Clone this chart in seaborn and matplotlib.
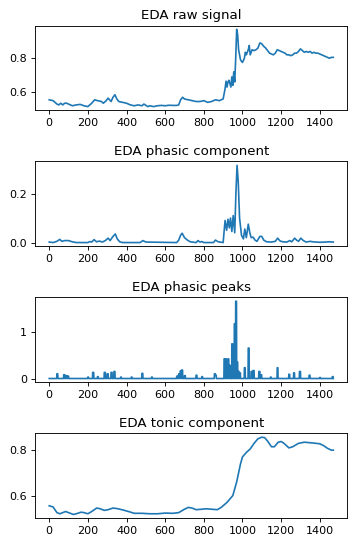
"""
EDA decomposition: raw signal, phasic, phasic peaks and tonic component.
"""

import matplotlib

matplotlib.use("Agg")

import matplotlib.pyplot as plt
import numpy as np
import seaborn as sns

# raw signal (sample index, value)
raw_idx = [0, 20, 40, 50, 60, 70, 80, 90, 100, 120, 140, 160, 180, 200, 210, 220, 235,
           250, 260, 270, 280, 295, 305, 320, 330, 340, 350, 360, 380, 400, 420, 440,
           460, 480, 490, 510, 520, 540, 560, 580, 600, 620, 640, 660, 670, 680, 690,
           700, 720, 740, 760, 780, 800, 820, 840, 860, 880, 900, 910, 915, 920, 925,
           930, 940, 945, 950, 955, 960, 965, 970, 975, 980, 990, 1000, 1010, 1015,
           1020, 1030, 1035, 1040, 1050, 1060, 1070, 1080, 1090, 1100, 1110, 1120,
           1130, 1140, 1150, 1160, 1170, 1180, 1190, 1200, 1210, 1220, 1230, 1240,
           1250, 1260, 1270, 1280, 1290, 1300, 1310, 1320, 1330, 1340, 1350, 1360,
           1370, 1380, 1390, 1400, 1410, 1420, 1430, 1440, 1450, 1460, 1470]
raw_val = [0.555, 0.55, 0.53, 0.525, 0.535, 0.525, 0.535, 0.535, 0.53, 0.52, 0.525,
           0.528, 0.52, 0.515, 0.525, 0.535, 0.555, 0.55, 0.548, 0.545, 0.535, 0.55,
           0.565, 0.545, 0.57, 0.585, 0.56, 0.545, 0.54, 0.535, 0.525, 0.52, 0.525,
           0.52, 0.53, 0.515, 0.52, 0.515, 0.52, 0.522, 0.52, 0.523, 0.522, 0.522,
           0.525, 0.555, 0.57, 0.56, 0.555, 0.55, 0.545, 0.545, 0.55, 0.54, 0.545,
           0.555, 0.55, 0.56, 0.62, 0.665, 0.63, 0.66, 0.67, 0.63, 0.69, 0.64, 0.72,
           0.66, 0.8, 0.97, 0.94, 0.85, 0.79, 0.775, 0.8, 0.835, 0.82, 0.85, 0.875,
           0.82, 0.85, 0.845, 0.85, 0.86, 0.89, 0.885, 0.87, 0.86, 0.845, 0.83, 0.825,
           0.82, 0.83, 0.85, 0.845, 0.84, 0.835, 0.83, 0.82, 0.82, 0.815, 0.82, 0.83,
           0.83, 0.84, 0.855, 0.845, 0.835, 0.84, 0.835, 0.84, 0.83, 0.835, 0.83, 0.83,
           0.825, 0.82, 0.815, 0.81, 0.805, 0.8, 0.805, 0.805]

# phasic component
phasic_idx = [0, 20, 40, 55, 65, 80, 100, 120, 140, 200, 210, 220, 232, 245, 260, 275,
              290, 305, 315, 330, 342, 352, 365, 380, 470, 485, 500, 660, 670, 680, 688,
              700, 715, 730, 760, 770, 780, 790, 800, 850, 860, 875, 900, 910, 918, 925,
              932, 938, 945, 952, 960, 966, 972, 978, 985, 995, 1005, 1012, 1020, 1030,
              1038, 1045, 1055, 1065, 1075, 1090, 1100, 1110, 1125, 1150, 1170, 1182,
              1195, 1210, 1230, 1245, 1255, 1270, 1280, 1290, 1302, 1315, 1330, 1350,
              1365, 1400, 1450, 1470]
phasic_val = [0.002, 0.0, 0.005, 0.013, 0.005, 0.008, 0.008, 0.003, 0.0, 0.0, 0.004,
              0.002, 0.012, 0.003, 0.006, 0.002, 0.008, 0.018, 0.008, 0.025, 0.035,
              0.015, 0.003, 0.0, 0.0, 0.008, 0.002, 0.0, 0.01, 0.03, 0.038, 0.02, 0.01,
              0.003, 0.0, 0.008, 0.002, 0.004, 0.0, 0.0, 0.01, 0.003, 0.0, 0.09, 0.05,
              0.095, 0.06, 0.1, 0.045, 0.11, 0.04, 0.2, 0.315, 0.25, 0.1, 0.03, 0.015,
              0.055, 0.02, 0.075, 0.04, 0.02, 0.022, 0.01, 0.005, 0.025, 0.025, 0.01,
              0.003, 0.002, 0.005, 0.018, 0.006, 0.003, 0.002, 0.008, 0.003, 0.018, 0.01,
              0.005, 0.018, 0.008, 0.002, 0.005, 0.003, 0.001, 0.003, 0.002]

# phasic peaks: start index, width (samples), amplitude
peak_start = [40, 75, 85, 95, 200, 225, 250, 285, 300, 320, 335, 370, 425, 480, 530,
              660, 670, 678, 685, 700, 760, 790, 855, 860, 905, 912, 918, 925, 932, 945,
              958, 965, 972, 978, 985, 1010, 1030, 1045, 1055, 1085, 1095, 1145, 1180,
              1240, 1265, 1295, 1345, 1400, 1465]
peak_width = [5, 6, 6, 6, 4, 6, 4, 6, 6, 6, 6, 4, 4, 5, 4, 6, 6, 6, 6, 5, 5, 4, 6, 5,
              5, 5, 5, 5, 5, 5, 5, 5, 4, 5, 5, 5, 5, 6, 6, 6, 5, 4, 4, 5, 5, 6, 5, 4, 5]
peak_amp = [0.1, 0.08, 0.06, 0.05, 0.03, 0.13, 0.04, 0.13, 0.1, 0.13, 0.15, 0.03, 0.03,
            0.11, 0.03, 0.05, 0.1, 0.16, 0.18, 0.06, 0.07, 0.04, 0.1, 0.07, 0.42, 0.42,
            0.25, 0.42, 0.28, 0.74, 1.17, 1.65, 0.35, 0.15, 0.12, 0.23, 0.65, 0.15, 0.17,
            0.15, 0.08, 0.03, 0.23, 0.09, 0.12, 0.15, 0.07, 0.02, 0.04]

# tonic component
tonic_idx = [0, 20, 40, 55, 70, 85, 100, 125, 140, 165, 180, 200, 220, 245, 260, 285,
             305, 330, 350, 380, 410, 440, 480, 520, 560, 600, 640, 670, 700, 720, 740,
             760, 790, 810, 840, 870, 890, 920, 950, 970, 990, 1000, 1020, 1040, 1060,
             1080, 1100, 1115, 1130, 1150, 1165, 1185, 1200, 1215, 1240, 1260, 1290,
             1320, 1360, 1400, 1420, 1440, 1460, 1470]
tonic_val = [0.555, 0.55, 0.525, 0.52, 0.525, 0.53, 0.525, 0.517, 0.52, 0.527, 0.525,
             0.52, 0.53, 0.545, 0.543, 0.535, 0.538, 0.545, 0.543, 0.537, 0.53, 0.522,
             0.522, 0.52, 0.52, 0.523, 0.522, 0.525, 0.54, 0.548, 0.545, 0.538, 0.54,
             0.542, 0.54, 0.538, 0.548, 0.57, 0.6, 0.66, 0.74, 0.77, 0.79, 0.805, 0.83,
             0.85, 0.857, 0.855, 0.84, 0.815, 0.815, 0.835, 0.838, 0.83, 0.81, 0.815,
             0.83, 0.835, 0.832, 0.828, 0.82, 0.808, 0.8, 0.8]

n_samples = 1471
peaks_series = np.zeros(n_samples)
for start, width, amp in zip(peak_start, peak_width, peak_amp):
    peaks_series[start:start + width] = amp

panels = [
    ("EDA raw signal", raw_idx, raw_val, [0.6, 0.8], ["0.6", "0.8"]),
    ("EDA phasic component", phasic_idx, phasic_val, [0.0, 0.2], ["0.0", "0.2"]),
    ("EDA phasic peaks", list(range(n_samples)), peaks_series, [0, 1], ["0", "1"]),
    ("EDA tonic component", tonic_idx, tonic_val, [0.6, 0.8], ["0.6", "0.8"]),
]

fig, axes = plt.subplots(4, 1, figsize=(349 / 80, 538 / 80), dpi=80)
fig.subplots_adjust(left=0.1003, right=0.9957, top=0.9526, bottom=0.0366, hspace=0.6)

for ax, (title, xs, ys, yticks, ylabels) in zip(axes, panels):
    sns.lineplot(x=xs, y=ys, ax=ax, color="#1f77b4", linewidth=1.5, estimator=None)
    ax.set_title(title)
    ax.set_xticks(range(0, 1401, 200))
    ax.set_yticks(yticks)
    ax.set_yticklabels(ylabels)

fig.savefig("out.png", dpi=80)
plt.close(fig)
